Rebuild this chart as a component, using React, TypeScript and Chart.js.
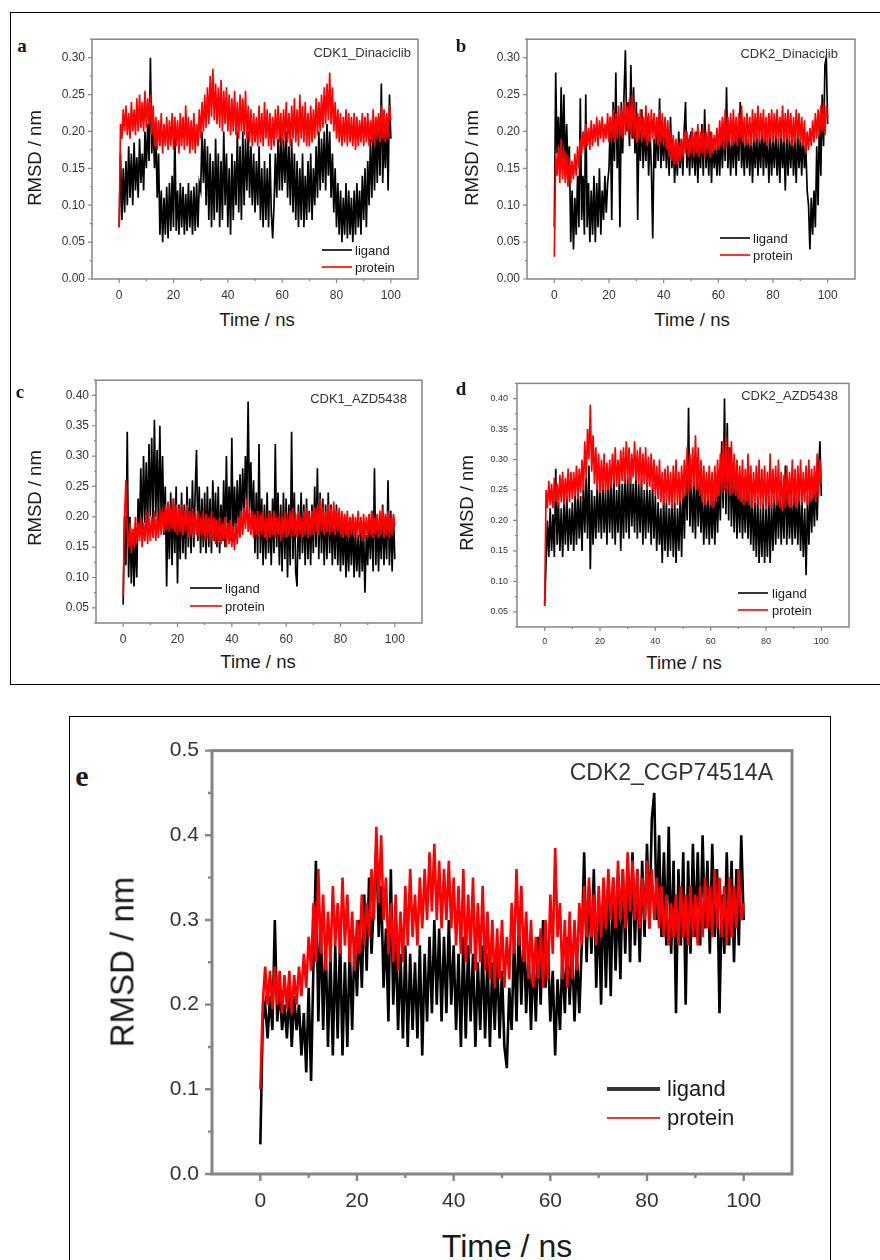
import React, { useEffect, useRef } from 'react';
import { Chart, registerables } from 'chart.js';

Chart.register(...registerables);

// Sampling interval of the trajectories (ns) – one value every 0.5 ns, 0..100 ns
const STEP_NS = 0.5;

// ---------- a : CDK1_Dinaciclib ----------
const proteinA = [
  0.07,0.21,0.19,0.23,0.2,0.235,0.195,0.225,0.19,0.24,0.2,0.23,0.195,0.245,0.2,0.25,0.205,0.24,0.2,0.255,
  0.205,0.245,0.21,0.25,0.195,0.235,0.18,0.22,0.175,0.215,0.18,0.225,0.17,0.21,0.18,0.22,0.175,0.215,0.18,0.225,
  0.175,0.22,0.18,0.215,0.17,0.225,0.18,0.22,0.175,0.235,0.18,0.22,0.17,0.215,0.175,0.225,0.17,0.21,0.18,0.23,
  0.19,0.24,0.2,0.25,0.205,0.26,0.21,0.275,0.22,0.285,0.215,0.265,0.21,0.26,0.205,0.27,0.2,0.255,0.21,0.26,
  0.2,0.25,0.195,0.245,0.2,0.255,0.195,0.24,0.19,0.25,0.2,0.245,0.195,0.255,0.19,0.235,0.185,0.23,0.18,0.225,
  0.185,0.22,0.18,0.235,0.185,0.225,0.18,0.24,0.19,0.23,0.18,0.225,0.175,0.22,0.18,0.23,0.19,0.235,0.185,0.225,
  0.18,0.23,0.19,0.24,0.185,0.225,0.18,0.235,0.19,0.245,0.185,0.23,0.18,0.25,0.19,0.235,0.185,0.24,0.18,0.225,
  0.18,0.235,0.185,0.23,0.19,0.245,0.195,0.24,0.2,0.25,0.205,0.26,0.21,0.265,0.215,0.28,0.21,0.26,0.2,0.24,
  0.19,0.23,0.185,0.225,0.18,0.22,0.185,0.23,0.18,0.225,0.185,0.22,0.18,0.225,0.175,0.22,0.18,0.215,0.185,0.225,
  0.18,0.22,0.185,0.225,0.18,0.215,0.185,0.23,0.18,0.22,0.19,0.225,0.185,0.235,0.19,0.23,0.185,0.225,0.19,0.235,
  0.215,
];
const ligandA = [
  0.07,0.17,0.08,0.15,0.09,0.16,0.1,0.18,0.11,0.17,0.1,0.185,0.12,0.165,0.11,0.19,0.13,0.17,0.12,0.2,
  0.15,0.21,0.16,0.3,0.17,0.22,0.15,0.2,0.11,0.17,0.06,0.12,0.05,0.11,0.06,0.125,0.055,0.13,0.065,0.14,
  0.07,0.2,0.065,0.12,0.06,0.13,0.07,0.125,0.06,0.115,0.065,0.13,0.07,0.12,0.06,0.125,0.065,0.13,0.07,0.13,
  0.12,0.2,0.13,0.19,0.1,0.18,0.08,0.17,0.07,0.16,0.08,0.19,0.09,0.17,0.07,0.16,0.08,0.2,0.1,0.17,
  0.07,0.15,0.06,0.17,0.08,0.16,0.1,0.2,0.09,0.18,0.08,0.2,0.1,0.19,0.12,0.2,0.11,0.18,0.1,0.17,
  0.09,0.16,0.1,0.18,0.08,0.15,0.07,0.16,0.08,0.15,0.07,0.17,0.09,0.055,0.1,0.17,0.11,0.19,0.12,0.2,
  0.12,0.19,0.13,0.2,0.11,0.18,0.1,0.19,0.09,0.17,0.08,0.16,0.07,0.15,0.08,0.17,0.07,0.14,0.08,0.16,
  0.09,0.17,0.08,0.15,0.1,0.18,0.11,0.2,0.12,0.19,0.13,0.2,0.12,0.21,0.14,0.2,0.11,0.17,0.09,0.15,
  0.07,0.13,0.06,0.12,0.05,0.11,0.06,0.13,0.055,0.12,0.06,0.11,0.05,0.12,0.06,0.13,0.07,0.12,0.06,0.14,
  0.08,0.15,0.07,0.16,0.1,0.19,0.11,0.2,0.12,0.21,0.13,0.22,0.14,0.265,0.13,0.2,0.15,0.22,0.12,0.25,
  0.19,
];

// ---------- b : CDK2_Dinaciclib ----------
const proteinB = [
  0.03,0.17,0.14,0.18,0.13,0.19,0.135,0.175,0.13,0.17,0.125,0.165,0.13,0.16,0.135,0.17,0.14,0.18,0.15,0.19,
  0.17,0.2,0.175,0.21,0.18,0.205,0.175,0.215,0.18,0.21,0.185,0.22,0.18,0.215,0.19,0.22,0.185,0.21,0.19,0.225,
  0.185,0.22,0.19,0.23,0.185,0.225,0.19,0.235,0.195,0.23,0.19,0.24,0.195,0.235,0.2,0.245,0.195,0.25,0.19,0.235,
  0.185,0.225,0.19,0.23,0.185,0.22,0.19,0.235,0.18,0.225,0.185,0.23,0.19,0.225,0.185,0.22,0.18,0.23,0.185,0.225,
  0.18,0.22,0.175,0.215,0.165,0.2,0.16,0.195,0.155,0.19,0.155,0.185,0.16,0.19,0.165,0.2,0.17,0.2,0.165,0.195,
  0.17,0.205,0.165,0.2,0.17,0.21,0.165,0.2,0.17,0.205,0.165,0.2,0.17,0.21,0.165,0.2,0.17,0.195,0.175,0.205,
  0.175,0.215,0.18,0.22,0.175,0.23,0.18,0.22,0.185,0.225,0.18,0.23,0.185,0.22,0.18,0.225,0.19,0.235,0.185,0.22,
  0.18,0.225,0.185,0.22,0.18,0.23,0.185,0.225,0.19,0.235,0.185,0.225,0.19,0.23,0.185,0.22,0.18,0.225,0.19,0.23,
  0.185,0.225,0.19,0.23,0.185,0.22,0.19,0.235,0.185,0.225,0.19,0.23,0.185,0.225,0.18,0.22,0.185,0.23,0.19,0.225,
  0.185,0.22,0.18,0.215,0.17,0.2,0.175,0.205,0.18,0.215,0.185,0.225,0.19,0.23,0.195,0.235,0.2,0.24,0.195,0.235,
  0.22,
];
const ligandB = [
  0.07,0.28,0.17,0.22,0.15,0.26,0.16,0.25,0.14,0.21,0.15,0.18,0.05,0.12,0.04,0.11,0.06,0.14,0.07,0.245,
  0.08,0.14,0.06,0.25,0.07,0.13,0.05,0.12,0.06,0.14,0.05,0.13,0.07,0.15,0.06,0.12,0.08,0.14,0.09,0.13,
  0.15,0.22,0.08,0.24,0.16,0.28,0.15,0.22,0.07,0.24,0.17,0.25,0.31,0.2,0.24,0.18,0.29,0.19,0.26,0.17,
  0.24,0.08,0.22,0.16,0.23,0.15,0.21,0.16,0.22,0.14,0.2,0.15,0.055,0.19,0.15,0.21,0.16,0.245,0.15,0.2,
  0.16,0.21,0.15,0.2,0.14,0.22,0.15,0.19,0.13,0.18,0.14,0.2,0.15,0.19,0.14,0.2,0.24,0.15,0.19,0.14,
  0.2,0.15,0.19,0.14,0.2,0.13,0.19,0.15,0.21,0.14,0.23,0.15,0.19,0.14,0.2,0.13,0.19,0.15,0.18,0.14,
  0.19,0.14,0.2,0.15,0.21,0.16,0.26,0.15,0.2,0.14,0.19,0.15,0.21,0.14,0.2,0.16,0.24,0.15,0.19,0.14,
  0.2,0.15,0.19,0.14,0.2,0.13,0.19,0.15,0.2,0.14,0.19,0.15,0.21,0.14,0.2,0.15,0.19,0.13,0.2,0.14,
  0.19,0.15,0.2,0.14,0.19,0.13,0.2,0.15,0.19,0.12,0.2,0.14,0.19,0.15,0.2,0.14,0.19,0.13,0.2,0.15,
  0.19,0.14,0.2,0.15,0.18,0.12,0.1,0.04,0.11,0.06,0.12,0.07,0.18,0.1,0.22,0.14,0.25,0.18,0.29,0.3,
  0.21,
];

// ---------- c : CDK1_AZD5438 ----------
const proteinC = [
  0.07,0.2,0.26,0.18,0.15,0.19,0.14,0.18,0.15,0.2,0.155,0.19,0.16,0.2,0.15,0.19,0.16,0.21,0.155,0.2,
  0.16,0.2,0.165,0.21,0.16,0.2,0.165,0.215,0.17,0.21,0.175,0.22,0.18,0.225,0.175,0.215,0.18,0.23,0.175,0.22,
  0.17,0.215,0.175,0.22,0.17,0.21,0.175,0.22,0.165,0.21,0.17,0.215,0.165,0.205,0.17,0.21,0.165,0.2,0.17,0.21,
  0.16,0.205,0.165,0.2,0.16,0.21,0.165,0.2,0.155,0.195,0.16,0.2,0.155,0.19,0.16,0.2,0.15,0.19,0.155,0.195,
  0.15,0.185,0.145,0.19,0.155,0.2,0.165,0.21,0.17,0.215,0.18,0.23,0.175,0.215,0.17,0.21,0.165,0.205,0.17,0.21,
  0.165,0.205,0.17,0.21,0.165,0.2,0.16,0.21,0.165,0.205,0.17,0.21,0.165,0.2,0.17,0.205,0.16,0.2,0.165,0.21,
  0.165,0.205,0.17,0.21,0.165,0.215,0.17,0.205,0.165,0.21,0.17,0.2,0.165,0.21,0.17,0.215,0.165,0.205,0.17,0.21,
  0.17,0.215,0.175,0.22,0.17,0.23,0.175,0.215,0.17,0.21,0.175,0.22,0.17,0.215,0.175,0.225,0.17,0.21,0.175,0.215,
  0.17,0.21,0.165,0.205,0.17,0.21,0.165,0.2,0.17,0.205,0.165,0.2,0.17,0.21,0.165,0.2,0.16,0.205,0.165,0.2,
  0.165,0.205,0.17,0.21,0.165,0.2,0.17,0.205,0.165,0.21,0.17,0.215,0.165,0.205,0.17,0.21,0.165,0.2,0.17,0.205,
  0.185,
];
const ligandC = [
  0.055,0.2,0.12,0.34,0.1,0.2,0.09,0.18,0.085,0.17,0.1,0.23,0.18,0.28,0.17,0.3,0.19,0.29,0.18,0.32,
  0.2,0.33,0.19,0.36,0.2,0.31,0.18,0.35,0.19,0.3,0.17,0.25,0.085,0.22,0.13,0.24,0.12,0.23,0.14,0.25,
  0.09,0.22,0.13,0.24,0.14,0.22,0.13,0.25,0.15,0.23,0.14,0.26,0.15,0.24,0.31,0.16,0.25,0.14,0.23,0.15,
  0.24,0.14,0.25,0.15,0.23,0.14,0.26,0.16,0.24,0.15,0.25,0.14,0.22,0.16,0.26,0.15,0.3,0.17,0.25,0.16,
  0.33,0.16,0.25,0.17,0.26,0.18,0.27,0.19,0.28,0.2,0.3,0.22,0.39,0.21,0.29,0.18,0.26,0.14,0.24,0.13,
  0.32,0.14,0.23,0.12,0.22,0.13,0.24,0.14,0.21,0.12,0.23,0.14,0.32,0.15,0.24,0.12,0.22,0.11,0.24,0.13,
  0.23,0.1,0.22,0.12,0.34,0.13,0.24,0.11,0.085,0.22,0.13,0.24,0.14,0.22,0.12,0.23,0.13,0.21,0.12,0.22,
  0.14,0.25,0.15,0.28,0.13,0.24,0.14,0.23,0.12,0.22,0.13,0.24,0.14,0.22,0.12,0.21,0.13,0.22,0.12,0.2,
  0.11,0.19,0.12,0.2,0.1,0.18,0.11,0.19,0.12,0.2,0.1,0.18,0.11,0.17,0.1,0.19,0.11,0.18,0.075,0.17,
  0.12,0.2,0.13,0.21,0.11,0.28,0.12,0.2,0.11,0.19,0.13,0.22,0.12,0.2,0.13,0.26,0.12,0.21,0.11,0.2,
  0.13,
];

// ---------- d : CDK2_AZD5438 ----------
const proteinD = [
  0.06,0.25,0.22,0.265,0.225,0.26,0.22,0.27,0.23,0.26,0.225,0.275,0.23,0.28,0.225,0.27,0.235,0.285,0.23,0.28,
  0.235,0.28,0.24,0.29,0.235,0.285,0.245,0.3,0.25,0.33,0.27,0.35,0.3,0.39,0.28,0.34,0.26,0.32,0.25,0.31,
  0.245,0.3,0.25,0.31,0.245,0.295,0.25,0.3,0.255,0.31,0.26,0.32,0.255,0.3,0.26,0.315,0.265,0.32,0.26,0.33,
  0.265,0.32,0.26,0.31,0.27,0.33,0.265,0.315,0.26,0.32,0.255,0.31,0.26,0.32,0.25,0.305,0.255,0.31,0.25,0.3,
  0.24,0.29,0.235,0.3,0.23,0.28,0.225,0.285,0.23,0.29,0.225,0.28,0.22,0.29,0.23,0.3,0.225,0.28,0.23,0.29,
  0.235,0.3,0.24,0.32,0.245,0.31,0.25,0.32,0.255,0.34,0.25,0.32,0.24,0.3,0.23,0.29,0.225,0.28,0.23,0.29,
  0.225,0.28,0.22,0.29,0.23,0.3,0.24,0.31,0.245,0.33,0.25,0.34,0.245,0.32,0.24,0.33,0.245,0.31,0.24,0.3,
  0.235,0.29,0.23,0.3,0.225,0.285,0.23,0.31,0.225,0.29,0.22,0.28,0.23,0.29,0.225,0.3,0.22,0.285,0.225,0.29,
  0.22,0.28,0.225,0.31,0.22,0.285,0.23,0.29,0.225,0.3,0.22,0.28,0.215,0.275,0.22,0.29,0.225,0.28,0.22,0.3,
  0.225,0.285,0.22,0.29,0.23,0.3,0.225,0.28,0.23,0.29,0.225,0.3,0.23,0.285,0.235,0.29,0.23,0.31,0.24,0.3,
  0.26,
];
const ligandD = [
  0.06,0.13,0.2,0.14,0.22,0.15,0.21,0.14,0.285,0.16,0.23,0.15,0.22,0.14,0.23,0.16,0.24,0.15,0.22,0.16,
  0.23,0.15,0.24,0.16,0.25,0.17,0.24,0.15,0.26,0.18,0.27,0.17,0.29,0.12,0.25,0.16,0.24,0.17,0.26,0.18,
  0.25,0.17,0.26,0.18,0.25,0.16,0.27,0.18,0.26,0.17,0.27,0.16,0.25,0.18,0.27,0.15,0.26,0.17,0.28,0.18,
  0.27,0.17,0.28,0.19,0.26,0.18,0.28,0.17,0.26,0.18,0.27,0.16,0.25,0.17,0.26,0.18,0.25,0.16,0.26,0.17,
  0.24,0.15,0.23,0.16,0.22,0.13,0.24,0.15,0.23,0.14,0.22,0.15,0.24,0.14,0.23,0.13,0.22,0.15,0.24,0.14,
  0.26,0.17,0.28,0.2,0.385,0.19,0.27,0.18,0.26,0.17,0.29,0.19,0.27,0.18,0.25,0.16,0.24,0.17,0.25,0.16,
  0.24,0.17,0.25,0.16,0.26,0.18,0.27,0.2,0.33,0.22,0.4,0.21,0.36,0.2,0.32,0.19,0.29,0.18,0.28,0.17,
  0.26,0.18,0.27,0.17,0.25,0.18,0.26,0.17,0.25,0.16,0.24,0.15,0.23,0.14,0.24,0.13,0.22,0.14,0.23,0.13,
  0.22,0.14,0.24,0.13,0.23,0.15,0.24,0.16,0.25,0.17,0.26,0.16,0.24,0.17,0.29,0.16,0.25,0.17,0.24,0.16,
  0.25,0.17,0.24,0.16,0.25,0.15,0.23,0.14,0.22,0.11,0.24,0.16,0.25,0.18,0.26,0.19,0.27,0.2,0.28,0.33,
  0.24,
];

// ---------- e : CDK2_CGP74514A ----------
const proteinE = [
  0.1,0.2,0.245,0.2,0.24,0.195,0.245,0.2,0.24,0.19,0.235,0.195,0.24,0.19,0.235,0.2,0.245,0.21,0.26,0.22,
  0.28,0.24,0.32,0.25,0.36,0.26,0.33,0.24,0.31,0.25,0.34,0.27,0.32,0.26,0.35,0.27,0.33,0.25,0.31,0.24,
  0.3,0.26,0.33,0.27,0.32,0.28,0.36,0.3,0.41,0.32,0.4,0.3,0.35,0.26,0.32,0.25,0.33,0.24,0.31,0.25,
  0.34,0.27,0.36,0.28,0.33,0.27,0.35,0.29,0.36,0.3,0.38,0.31,0.39,0.3,0.37,0.29,0.36,0.3,0.37,0.29,
  0.35,0.27,0.34,0.26,0.36,0.25,0.33,0.26,0.35,0.24,0.32,0.25,0.34,0.24,0.31,0.23,0.3,0.22,0.29,0.23,
  0.3,0.22,0.28,0.23,0.32,0.26,0.36,0.27,0.34,0.25,0.31,0.23,0.3,0.22,0.28,0.23,0.29,0.22,0.3,0.23,
  0.33,0.26,0.385,0.28,0.32,0.23,0.3,0.22,0.31,0.23,0.3,0.24,0.32,0.27,0.34,0.28,0.35,0.28,0.33,0.27,
  0.34,0.28,0.35,0.29,0.36,0.3,0.35,0.29,0.37,0.3,0.36,0.29,0.38,0.31,0.37,0.3,0.36,0.29,0.35,0.3,
  0.37,0.29,0.36,0.3,0.35,0.29,0.34,0.28,0.33,0.27,0.32,0.28,0.33,0.27,0.34,0.28,0.33,0.27,0.34,0.28,
  0.33,0.27,0.34,0.28,0.35,0.29,0.34,0.28,0.36,0.29,0.35,0.28,0.34,0.27,0.35,0.28,0.34,0.29,0.36,0.3,
  0.32,
];
const ligandE = [
  0.035,0.18,0.2,0.16,0.21,0.17,0.3,0.18,0.22,0.17,0.2,0.16,0.22,0.15,0.21,0.17,0.2,0.14,0.19,0.12,
  0.22,0.11,0.25,0.37,0.18,0.3,0.17,0.28,0.15,0.26,0.14,0.27,0.16,0.28,0.14,0.25,0.15,0.27,0.17,0.28,
  0.21,0.3,0.22,0.33,0.24,0.35,0.26,0.32,0.39,0.28,0.34,0.22,0.29,0.18,0.36,0.2,0.28,0.17,0.26,0.16,
  0.27,0.15,0.26,0.17,0.25,0.16,0.27,0.14,0.26,0.18,0.28,0.19,0.3,0.2,0.29,0.18,0.28,0.19,0.3,0.2,
  0.27,0.17,0.26,0.15,0.28,0.16,0.27,0.18,0.26,0.15,0.25,0.17,0.27,0.16,0.26,0.15,0.25,0.17,0.26,0.16,
  0.24,0.15,0.125,0.22,0.17,0.28,0.18,0.3,0.2,0.29,0.19,0.27,0.17,0.26,0.18,0.28,0.2,0.3,0.22,0.27,
  0.18,0.24,0.14,0.23,0.17,0.26,0.19,0.28,0.2,0.27,0.18,0.26,0.19,0.27,0.38,0.25,0.34,0.26,0.36,0.22,
  0.32,0.2,0.34,0.22,0.33,0.21,0.35,0.24,0.33,0.23,0.36,0.26,0.37,0.25,0.38,0.27,0.36,0.25,0.37,0.28,
  0.39,0.29,0.42,0.45,0.3,0.4,0.28,0.38,0.27,0.41,0.26,0.37,0.19,0.36,0.27,0.38,0.2,0.37,0.26,0.39,
  0.28,0.38,0.27,0.4,0.29,0.37,0.26,0.39,0.28,0.36,0.19,0.33,0.26,0.38,0.27,0.37,0.25,0.36,0.27,0.4,
  0.3,
];

// Axis tick settings
const X_MIN = -10;
const X_MAX = 110;
const X_MINOR = 10;
const X_MAJOR = 20;

type PanelCfg = {
  key: string;
  L: number; T: number; R: number; B: number;
  yw: number; xh: number; padTop: number; padRight: number;
  yMin: number; yMax: number; yMinor: number; yMajor: number; yDec: number;
  tickFont: number; padX: number; padY: number;
  tickMaj: number; tickMin: number; frameW: number; lineW: number;
  ligand: number[]; protein: number[];
};

const PANELS: PanelCfg[] = [
  { key: 'a', L: 92, T: 37, R: 418, B: 279, yw: 52, xh: 24, padTop: 12, padRight: 12,
    yMin: 0, yMax: 0.325, yMinor: 0.025, yMajor: 0.05, yDec: 2, tickFont: 12, padX: 9, padY: 7,
    tickMaj: 4, tickMin: 2, frameW: 1.5, lineW: 1.7, ligand: ligandA, protein: proteinA },
  { key: 'b', L: 527, T: 37, R: 855, B: 279, yw: 52, xh: 24, padTop: 12, padRight: 12,
    yMin: 0, yMax: 0.325, yMinor: 0.025, yMajor: 0.05, yDec: 2, tickFont: 12, padX: 9, padY: 7,
    tickMaj: 4, tickMin: 2, frameW: 1.5, lineW: 1.7, ligand: ligandB, protein: proteinB },
  { key: 'c', L: 96, T: 378, R: 422, B: 623, yw: 52, xh: 24, padTop: 12, padRight: 12,
    yMin: 0.025, yMax: 0.425, yMinor: 0.025, yMajor: 0.05, yDec: 2, tickFont: 12, padX: 9, padY: 7,
    tickMaj: 4, tickMin: 2, frameW: 1.5, lineW: 1.7, ligand: ligandC, protein: proteinC },
  { key: 'd', L: 517, T: 381, R: 849, B: 627, yw: 52, xh: 24, padTop: 12, padRight: 12,
    yMin: 0.025, yMax: 0.425, yMinor: 0.025, yMajor: 0.05, yDec: 2, tickFont: 9, padX: 9, padY: 9,
    tickMaj: 4, tickMin: 2, frameW: 1.5, lineW: 1.7, ligand: ligandD, protein: proteinD },
  { key: 'e', L: 212, T: 743, R: 795, B: 1174, yw: 72, xh: 44, padTop: 18, padRight: 12,
    yMin: 0, yMax: 0.5, yMinor: 0.05, yMajor: 0.1, yDec: 1, tickFont: 21, padX: 15, padY: 13,
    tickMaj: 7, tickMin: 4, frameW: 3, lineW: 2.6, ligand: ligandE, protein: proteinE },
];

const SANS = '"Liberation Sans", Arial, Helvetica, sans-serif';
const SERIF = '"Liberation Serif", "Times New Roman", serif';
const AXIS_COLOR = '#858585';

function isMajor(v: number, step: number) {
  const r = v / step;
  return Math.abs(r - Math.round(r)) < 1e-6;
}

function toPoints(arr: number[]) {
  return arr.map((y, i) => ({ x: i * STEP_NS, y }));
}

function PanelChart({ p }: { p: PanelCfg }) {
  const ref = useRef<HTMLCanvasElement | null>(null);
  const cw = p.R - p.L + p.yw + p.padRight;
  const ch = p.B - p.T + p.padTop + p.xh;

  useEffect(() => {
    if (!ref.current) return;
    const xVals: number[] = [];
    for (let v = X_MIN; v <= X_MAX + 1e-9; v += X_MINOR) xVals.push(v);
    const yVals: number[] = [];
    const n = Math.round((p.yMax - p.yMin) / p.yMinor);
    for (let i = 0; i <= n; i++) yVals.push(Math.round((p.yMin + i * p.yMinor) * 1e6) / 1e6);

    const framePlugin = {
      id: 'frame' + p.key,
      afterDraw(chart: any) {
        const { ctx, chartArea: a, scales } = chart;
        ctx.save();
        ctx.strokeStyle = AXIS_COLOR;
        ctx.lineWidth = p.frameW;
        ctx.strokeRect(a.left, a.top, a.right - a.left, a.bottom - a.top);
        ctx.lineWidth = Math.max(1, p.frameW * 0.8);
        ctx.beginPath();
        for (const v of xVals) {
          if (v <= X_MIN || v >= X_MAX) continue;
          const px = scales.x.getPixelForValue(v);
          const len = isMajor(v, X_MAJOR) ? p.tickMaj : p.tickMin;
          ctx.moveTo(px, a.bottom);
          ctx.lineTo(px, a.bottom + len);
        }
        for (const v of yVals) {
          const py = scales.y.getPixelForValue(v);
          const len = isMajor(v, p.yMajor) ? p.tickMaj : p.tickMin;
          ctx.moveTo(a.left - len, py);
          ctx.lineTo(a.left, py);
        }
        ctx.stroke();
        ctx.restore();
      },
    };

    const chart = new Chart(ref.current, {
      type: 'line',
      data: {
        datasets: [
          { label: 'protein', data: toPoints(p.protein), borderColor: '#ff0000', borderWidth: p.lineW,
            pointRadius: 0, tension: 0, fill: false, order: 0, borderJoinStyle: 'miter' },
          { label: 'ligand', data: toPoints(p.ligand), borderColor: '#000000', borderWidth: p.lineW,
            pointRadius: 0, tension: 0, fill: false, order: 1, borderJoinStyle: 'miter' },
        ],
      },
      options: {
        animation: false,
        responsive: false,
        maintainAspectRatio: false,
        parsing: false,
        events: [],
        layout: { padding: { top: p.padTop, right: p.padRight, left: 0, bottom: 0 } },
        plugins: { legend: { display: false }, tooltip: { enabled: false }, title: { display: false } },
        scales: {
          x: {
            type: 'linear', min: X_MIN, max: X_MAX,
            grid: { display: false, drawTicks: false },
            border: { display: false },
            afterBuildTicks: (s: any) => { s.ticks = xVals.map((v) => ({ value: v })); },
            afterFit: (s: any) => { s.height = p.xh; },
            ticks: {
              autoSkip: false, maxRotation: 0, minRotation: 0, padding: p.padX,
              color: '#333', font: { family: SANS, size: p.tickFont },
              callback: (v: any) => (v >= 0 && v <= 100 && isMajor(v, X_MAJOR) ? String(v) : ''),
            },
          },
          y: {
            type: 'linear', min: p.yMin, max: p.yMax,
            grid: { display: false, drawTicks: false },
            border: { display: false },
            afterBuildTicks: (s: any) => { s.ticks = yVals.map((v) => ({ value: v })); },
            afterFit: (s: any) => { s.width = p.yw; },
            ticks: {
              autoSkip: false, padding: p.padY,
              color: '#333', font: { family: SANS, size: p.tickFont },
              callback: (v: any) => (isMajor(v, p.yMajor) ? Number(v).toFixed(p.yDec) : ''),
            },
          },
        },
      },
      plugins: [framePlugin],
    } as any);
    return () => chart.destroy();
  }, []);

  return (
    <canvas
      ref={ref}
      width={cw}
      height={ch}
      style={{ position: 'absolute', left: p.L - p.yw, top: p.T - p.padTop, width: cw, height: ch }}
    />
  );
}

type TxtProps = {
  x: number; y: number; size: number; children: React.ReactNode;
  align?: 'left' | 'center' | 'right'; serif?: boolean; bold?: boolean; color?: string;
};

function Txt({ x, y, size, children, align = 'center', serif = false, bold = false, color = '#1a1a1a' }: TxtProps) {
  const tx = align === 'center' ? '-50%' : align === 'right' ? '-100%' : '0';
  return (
    <div
      style={{
        position: 'absolute', left: x, top: y, whiteSpace: 'nowrap', lineHeight: 1,
        fontFamily: serif ? SERIF : SANS, fontSize: size, fontWeight: bold ? 700 : 400, color,
        transform: `translate(${tx}, -50%)`,
      }}
    >
      {children}
    </div>
  );
}

function RotTxt({ x, y, size, children }: { x: number; y: number; size: number; children: React.ReactNode }) {
  return (
    <div
      style={{
        position: 'absolute', left: x, top: y, whiteSpace: 'nowrap', lineHeight: 1,
        fontFamily: SANS, fontSize: size, color: '#1a1a1a',
        transform: 'translate(-50%, -50%) rotate(-90deg)',
      }}
    >
      {children}
    </div>
  );
}

function Legend({ x1, x2, xt, y1, y2, size, lwBlack, lwRed }: { x1: number; x2: number; xt: number; y1: number; y2: number; size: number; lwBlack: number; lwRed: number }) {
  return (
    <>
      <div style={{ position: 'absolute', left: x1, top: y1 - lwBlack / 2, width: x2 - x1, height: lwBlack, background: '#333' }} />
      <div style={{ position: 'absolute', left: x1, top: y2 - lwRed / 2, width: x2 - x1, height: lwRed, background: '#ff3030' }} />
      <Txt x={xt} y={y1} size={size} align="left">ligand</Txt>
      <Txt x={xt} y={y2} size={size} align="left">protein</Txt>
    </>
  );
}

export default function App() {
  return (
    <div style={{ position: 'absolute', left: 0, top: 0, width: 880, height: 1260, overflow: 'hidden', background: '#fff' }}>
      {/* outer boxes */}
      <div style={{ position: 'absolute', left: 10, top: 12, width: 880, height: 673, border: '1px solid #000', boxSizing: 'border-box' }} />
      <div style={{ position: 'absolute', left: 69, top: 716, width: 762, height: 560, border: '1px solid #000', boxSizing: 'border-box' }} />

      {PANELS.map((p) => (
        <PanelChart key={p.key} p={p} />
      ))}

      {/* panel a */}
      <Txt x={22} y={45} size={19} serif bold>a</Txt>
      <Txt x={411} y={52} size={13} align="right" color="#333">CDK1_Dinaciclib</Txt>
      <RotTxt x={35} y={158} size={18.5}>RMSD / nm</RotTxt>
      <Txt x={257} y={320} size={18.5}>Time / ns</Txt>
      <Legend x1={322} x2={352} xt={355} y1={250} y2={267} size={13} lwBlack={1.5} lwRed={1.5} />

      {/* panel b */}
      <Txt x={461} y={45} size={19} serif bold>b</Txt>
      <Txt x={838} y={53} size={13} align="right" color="#333">CDK2_Dinaciclib</Txt>
      <RotTxt x={472} y={158} size={18.5}>RMSD / nm</RotTxt>
      <Txt x={692} y={320} size={18.5}>Time / ns</Txt>
      <Legend x1={720} x2={750} xt={753} y1={238} y2={255} size={13} lwBlack={1.5} lwRed={1.5} />

      {/* panel c */}
      <Txt x={20} y={391} size={19} serif bold>c</Txt>
      <Txt x={407} y={398} size={13} align="right" color="#333">CDK1_AZD5438</Txt>
      <RotTxt x={35} y={498} size={18.5}>RMSD / nm</RotTxt>
      <Txt x={258} y={662} size={18.5}>Time / ns</Txt>
      <Legend x1={190} x2={222} xt={225} y1={588} y2={606} size={13} lwBlack={1.5} lwRed={1.5} />

      {/* panel d */}
      <Txt x={461} y={388} size={19} serif bold>d</Txt>
      <Txt x={838} y={395} size={13} align="right" color="#333">CDK2_AZD5438</Txt>
      <RotTxt x={467} y={503} size={18.5}>RMSD / nm</RotTxt>
      <Txt x={684} y={663} size={18.5}>Time / ns</Txt>
      <Legend x1={738} x2={768} xt={772} y1={593} y2={610} size={13} lwBlack={1.5} lwRed={1.5} />

      {/* panel e */}
      <Txt x={82} y={776} size={30} serif bold>e</Txt>
      <Txt x={773} y={772} size={23} align="right" color="#333">CDK2_CGP74514A</Txt>
      <RotTxt x={122} y={962} size={33}>RMSD / nm</RotTxt>
      <Txt x={507} y={1246} size={32}>Time / ns</Txt>
      <Legend x1={607} x2={660} xt={667} y1={1089} y2={1118} size={22} lwBlack={3.5} lwRed={2} />
    </div>
  );
}
